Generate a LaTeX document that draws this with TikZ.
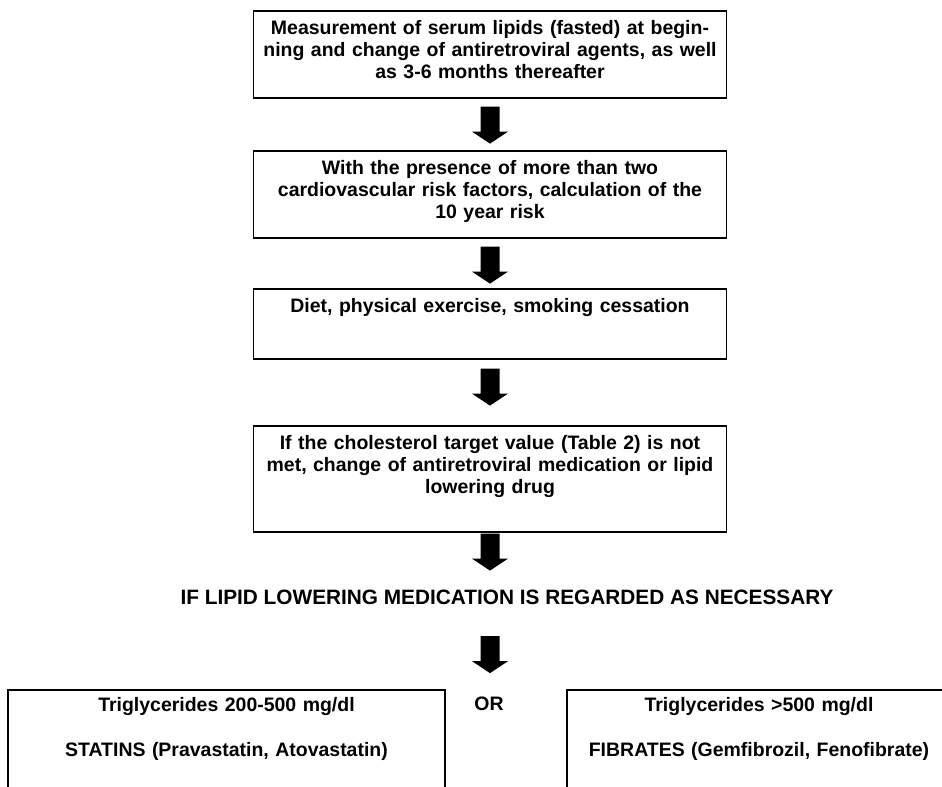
\documentclass[tikz,border=0pt]{standalone}
\usepackage{fontspec}
\setmainfont{Liberation Sans}
\usetikzlibrary{positioning,calc}

\begin{document}
\begin{tikzpicture}[x=0.75pt, y=-0.75pt,
        box/.style={draw, rectangle, line width=1.2pt, anchor=north, text width=340pt, align=center, inner xsep=7.4pt, inner ysep=7pt, text height=11pt, font=\fontsize{14.6}{16.3}\selectfont\bfseries},
        choice/.style={box, text width=#1, inner ysep=5.5pt, text depth=100pt},
        plain/.style={inner sep=0pt, font=\fontsize{14.6}{16.3}\selectfont\bfseries}
    ]
        \clip (0,0) rectangle (942,787);

        \node[box, text depth=40.25pt] (meas) at (490,10) {
            Measurement of serum lipids (fasted) at begin-\\
            ning and change of antiretroviral agents, as well\\
            as 3-6 months thereafter
        };

        \node[box, text depth=40.25pt] (risk) at (490,150) {
            With the presence of more than two\\
            cardiovascular risk factors, calculation of the\\
            10 year risk
        };

        \node[box, text depth=27.5pt] (diet) at (490,288) {
            Diet, physical exercise, smoking cessation
        };

        \node[box, text depth=54.5pt] (target) at (490,425) {
            If the cholesterol target value (Table 2) is not\\
            met, change of antiretroviral medication or lipid\\
            lowering drug
        };

        \node[plain, font=\fontsize{15.6}{18}\selectfont\bfseries] (need) at (507,597) {
            IF LIPID LOWERING MEDICATION IS REGARDED AS NECESSARY
        };

        \node[choice=313pt] (statin) at (226.5,689) {
            Triglycerides 200-500 mg/dl\\[17.5pt]
            STATINS (Pravastatin, Atovastatin)
        };

        \node[plain] (or) at (489,704) {OR};

        \node[choice=273pt] (fibr) at (759,689) {
            Triglycerides >500 mg/dl\\[17.5pt]
            FIBRATES (Gemfibrozil, Fenofibrate)
        };

        % block arrows between the steps
        \foreach \n/\g in {meas/8, risk/8, diet/9, target/1, need/31.5}
            \fill ($(\n.south -| meas.south)+(0,\g)$) ++(-9.5,0) -- ++(0,25) -- ++(-8.5,0) -- ++(18,12) -- ++(18,-12) -- ++(-8.5,0) -- ++(0,-25) -- cycle;
    \end{tikzpicture}
\end{document}
